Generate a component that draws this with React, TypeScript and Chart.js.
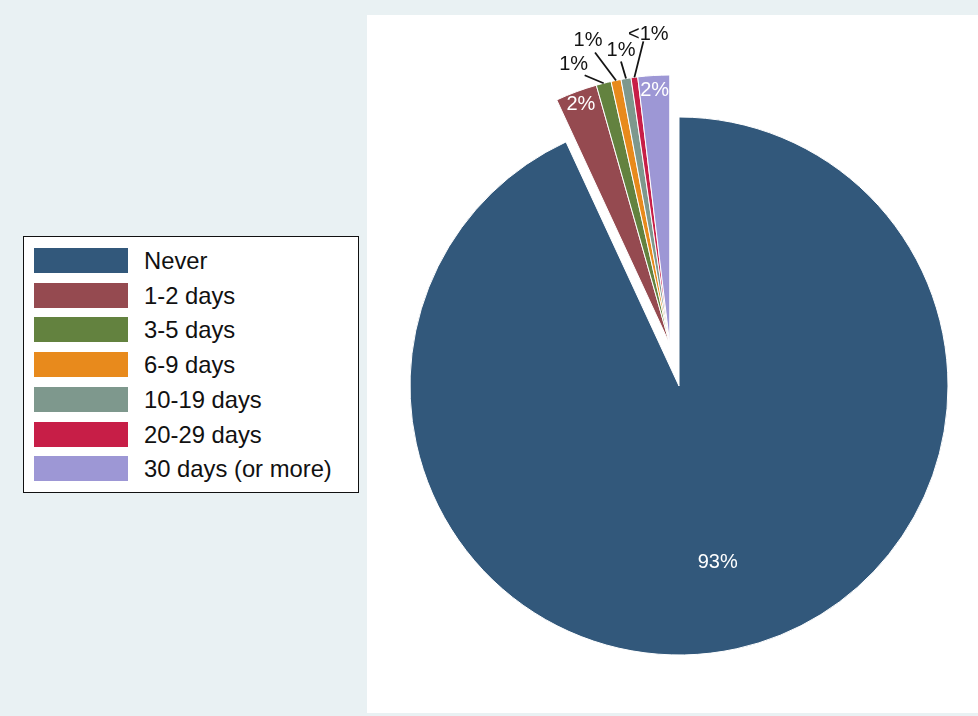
import React, { useEffect, useRef } from "react";
import { Chart, PieController, ArcElement } from "chart.js";

Chart.register(PieController, ArcElement);

// ---- data ----
const categories = [
  "Never",
  "1-2 days",
  "3-5 days",
  "6-9 days",
  "10-19 days",
  "20-29 days",
  "30 days (or more)",
];
const shares = [93.1, 2.5, 0.9, 0.6, 0.6, 0.4, 1.9];
const shareLabels = ["93%", "2%", "1%", "1%", "1%", "<1%", "2%"];
const sliceColors = [
  "#32587b",
  "#954a50",
  "#63823f",
  "#e88a1c",
  "#7e988d",
  "#c71e47",
  "#9d97d5",
];

// ---- label placement (style, not data) ----
const insideRadius: (number | null)[] = [0.67, 0.95, null, null, null, null, 0.945];
// [lineDx, lineDy, textDx, textDy]
const leaders: (number[] | null)[] = [
  null,
  null,
  [-19, -8, -11, -11],
  [-21, -28, -7, -12],
  [-5, -17, 0, -11],
  [9, -36, 5, -7],
  null,
];
const EXPLODE = 43;
const FONT = "'Liberation Sans', Arial, Helvetica, sans-serif";

function explodeVector(meta: any) {
  const els = meta.data;
  const start = els[1].startAngle;
  const end = els[els.length - 1].endAngle;
  const mid = (start + end) / 2;
  return { dx: Math.cos(mid) * EXPLODE, dy: Math.sin(mid) * EXPLODE };
}

const explodePlugin = {
  id: "explodeGroup",
  beforeDatasetDraw(chart: any, args: any) {
    const meta = args.meta;
    const ctx = chart.ctx;
    const { dx, dy } = explodeVector(meta);
    meta.data.forEach((el: any, i: number) => {
      ctx.save();
      if (i > 0) ctx.translate(dx, dy);
      el.draw(ctx);
      ctx.restore();
    });
    return false;
  },
};

const labelPlugin = {
  id: "sliceLabels",
  afterDatasetsDraw(chart: any) {
    const meta = chart.getDatasetMeta(0);
    const ctx = chart.ctx;
    const { dx, dy } = explodeVector(meta);
    ctx.save();
    ctx.font = `20px ${FONT}`;
    ctx.textAlign = "center";
    ctx.textBaseline = "middle";
    meta.data.forEach((el: any, i: number) => {
      const ox = i > 0 ? dx : 0;
      const oy = i > 0 ? dy : 0;
      const a = (el.startAngle + el.endAngle) / 2;
      const R = el.outerRadius;
      const cx = el.x + ox;
      const cy = el.y + oy;
      const ir = insideRadius[i];
      const ld = leaders[i];
      if (ir != null) {
        ctx.fillStyle = "#ffffff";
        ctx.fillText(shareLabels[i], cx + Math.cos(a) * R * ir, cy + Math.sin(a) * R * ir);
      } else if (ld) {
        const sx = cx + Math.cos(a) * R;
        const sy = cy + Math.sin(a) * R;
        ctx.strokeStyle = "#141414";
        ctx.lineWidth = 1.8;
        ctx.beginPath();
        ctx.moveTo(sx, sy);
        ctx.lineTo(sx + ld[0], sy + ld[1]);
        ctx.stroke();
        ctx.fillStyle = "#141414";
        ctx.fillText(shareLabels[i], sx + ld[0] + ld[2], sy + ld[1] + ld[3]);
      }
    });
    ctx.restore();
  },
};

export default function App() {
  const canvasRef = useRef<HTMLCanvasElement | null>(null);

  useEffect(() => {
    const canvas = canvasRef.current;
    if (!canvas) return;
    const chart = new Chart(canvas, {
      type: "pie",
      data: {
        labels: categories,
        datasets: [
          {
            data: shares,
            backgroundColor: sliceColors,
            borderColor: "#ffffff",
            borderWidth: 1,
          },
        ],
      },
      options: {
        responsive: false,
        animation: false,
        devicePixelRatio: 1,
        rotation: 0,
        layout: { padding: { left: 409.5, top: 116.5, right: 29.5, bottom: 60.5 } },
        plugins: {
          legend: { display: false },
          tooltip: { enabled: false },
        },
        events: [],
      },
      plugins: [explodePlugin, labelPlugin],
    } as any);
    return () => chart.destroy();
  }, []);

  return (
    <div
      style={{
        position: "absolute",
        left: 0,
        top: 0,
        width: 978,
        height: 716,
        background: "#e9f1f3",
        fontFamily: FONT,
        overflow: "hidden",
      }}
    >
      <div
        style={{
          position: "absolute",
          left: 367,
          top: 15,
          width: 611,
          height: 698,
          background: "#ffffff",
        }}
      />
      <div
        style={{
          position: "absolute",
          left: 23,
          top: 236,
          width: 336,
          height: 257,
          boxSizing: "border-box",
          border: "1px solid #111",
          background: "#ffffff",
        }}
      >
        {categories.map((c, i) => (
          <div
            key={c}
            style={{
              position: "absolute",
              left: 10,
              top: 11 + i * 34.7,
              height: 25,
              display: "flex",
              alignItems: "center",
              whiteSpace: "nowrap",
            }}
          >
            <div style={{ width: 94, height: 25, background: sliceColors[i] }} />
            <span style={{ marginLeft: 16, fontSize: 23.8, color: "#111", lineHeight: "25px" }}>{c}</span>
          </div>
        ))}
      </div>
      <canvas
        ref={canvasRef}
        width={978}
        height={716}
        style={{ position: "absolute", left: 0, top: 0, width: 978, height: 716 }}
      />
    </div>
  );
}
